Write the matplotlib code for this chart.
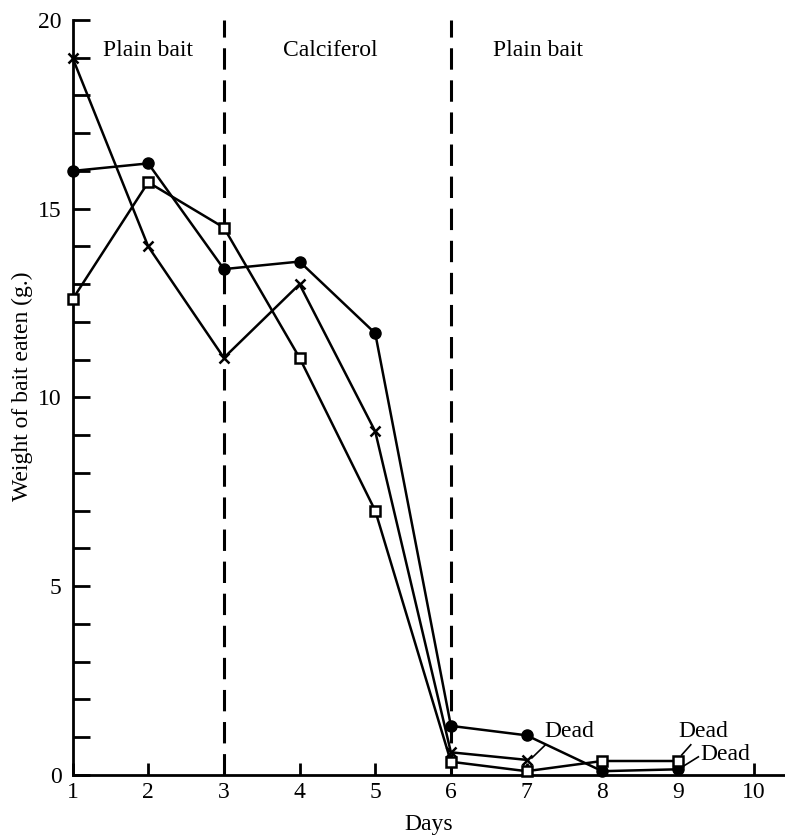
import matplotlib.pyplot as plt

plt.rcParams['font.family'] = ['Liberation Serif', 'DejaVu Serif']

# rat 1: filled circles
circ_days = [1, 2, 3, 4, 5, 6, 7, 8, 9]
circ_vals = [16.0, 16.2, 13.4, 13.6, 11.7, 1.3, 1.05, 0.1, 0.15]
# rat 2: crosses
cross_days = [1, 2, 3, 4, 5, 6, 7]
cross_vals = [19.0, 14.0, 11.05, 13.0, 9.1, 0.6, 0.4]
# rat 3: open squares
sq_days = [1, 2, 3, 4, 5, 6, 7, 8, 9]
sq_vals = [12.6, 15.7, 14.5, 11.05, 7.0, 0.35, 0.1, 0.37, 0.37]

phase_bounds = [3, 6]
phase_labels = ["Plain bait", "Calciferol", "Plain bait"]
phase_label_x = [2.0, 4.4, 7.15]

FS = 17

fig = plt.figure(figsize=(7.85, 8.35), dpi=100)
ax = fig.add_axes([0.0924, 0.0719, 0.9076, 0.9042])

lw = 1.8
ax.plot(circ_days, circ_vals, color='black', lw=lw, marker='o', ms=8, zorder=3, clip_on=False)
ax.plot(cross_days, cross_vals, color='black', lw=lw, marker='x', ms=7, mew=1.8, zorder=3, clip_on=False)
ax.plot(sq_days, sq_vals, color='black', lw=lw, marker='s', ms=6.5, mfc='white', mew=1.8, zorder=4,
        clip_on=False)

for b in phase_bounds:
    ax.plot([b, b], [0, 20], color='black', lw=2.2, dashes=(7, 3.5), zorder=2)

for lab, x in zip(phase_labels, phase_label_x):
    ax.text(x, 19.2, lab, ha='center', va='center', fontsize=FS)

# "Dead" annotations
ax.text(7.23, 1.14, "Dead", ha='left', va='center', fontsize=FS)
ax.plot([7.07, 7.25], [0.45, 0.8], color='black', lw=1.2)
ax.text(9.0, 1.14, "Dead", ha='left', va='center', fontsize=FS)
ax.plot([9.05, 9.17], [0.53, 0.8], color='black', lw=1.2)
ax.text(9.3, 0.53, "Dead", ha='left', va='center', fontsize=FS)
ax.plot([9.03, 9.27], [0.18, 0.48], color='black', lw=1.2)

ax.set_xlim(1, 10.415)
ax.set_ylim(0, 20)
ax.spines['top'].set_visible(False)
ax.spines['right'].set_visible(False)
ax.spines['left'].set_linewidth(2)
ax.spines['bottom'].set_linewidth(2)
ax.spines['left'].set_bounds(0, 20)

ax.set_xticks(range(1, 11))
ax.set_xticklabels([str(d) for d in range(1, 11)], fontsize=FS)
ax.set_yticks([0, 5, 10, 15, 20])
ax.set_yticklabels(['0', '5', '10', '15', '20'], fontsize=FS)
ax.set_yticks(range(0, 21), minor=True)
ax.tick_params(axis='y', which='both', direction='in', length=12, width=2, pad=8)
ax.tick_params(axis='x', direction='in', length=9, width=2, pad=5)

ax.set_xlabel("Days", fontsize=FS, labelpad=8)
ax.set_ylabel("Weight of bait eaten (g.)", fontsize=FS)
ax.yaxis.set_label_coords(-0.055, 0.515)

fig.savefig("out.png", dpi=100)
